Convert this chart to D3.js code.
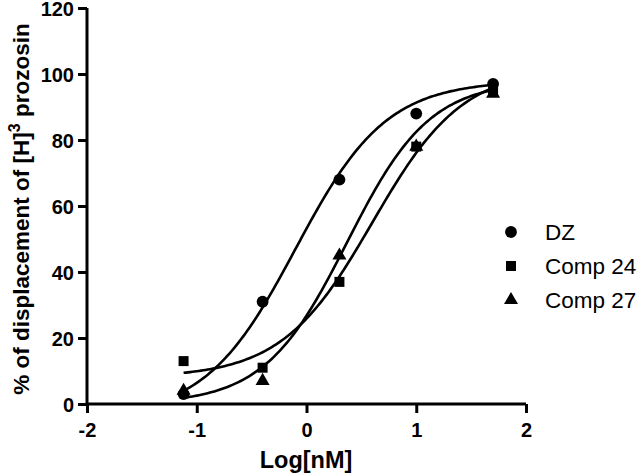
<!DOCTYPE html>
<html><head><meta charset="utf-8">
<script src="https://cdn.jsdelivr.net/npm/d3@7"></script>
<style>body{margin:0;background:#fff}svg{display:block}text{font-family:"Liberation Sans",Arial,sans-serif}</style>
</head><body>
<svg id="c" width="640" height="473"></svg>
<script>
// Data
const xDoses = [-1.12, -0.4, 0.3, 1.0, 1.7];
const dzValues = [3, 31, 68, 88, 97];
const comp24Values = [13, 11, 37, 78, 95];
const comp27Values = [4, 7, 45, 78, 94];
const seriesNames = ["DZ", "Comp 24", "Comp 27"];
const seriesSymbols = ["circle", "square", "triangle"];
// Fitted sigmoid parameters (bottom, top, logEC50, hill)
const dzFit = [-4, 98, -0.1, 1.05];
const comp24Fit = [8, 102, 0.6, 1.05];
const comp27Fit = [0, 98, 0.37, 1.15];
const xTicks = [-2, -1, 0, 1, 2];
const yTicks = [0, 20, 40, 60, 80, 100, 120];

const svg = d3.select("#c");
const x = d3.scaleLinear().domain([-2, 2]).range([87, 526]);
const y = d3.scaleLinear().domain([0, 120]).range([404, 8]);

const series = [
  {name: seriesNames[0], sym: seriesSymbols[0], vals: dzValues, fit: dzFit},
  {name: seriesNames[1], sym: seriesSymbols[1], vals: comp24Values, fit: comp24Fit},
  {name: seriesNames[2], sym: seriesSymbols[2], vals: comp27Values, fit: comp27Fit}
];

const fmt = d => String(d);
// Axes
const xAxis = svg.append("g").attr("transform", "translate(0,404)")
  .call(d3.axisBottom(x).tickValues(xTicks).tickSize(9).tickPadding(6).tickFormat(fmt));
const yAxis = svg.append("g").attr("transform", "translate(87,0)")
  .call(d3.axisLeft(y).tickValues(yTicks).tickSize(9).tickPadding(4).tickFormat(fmt));
[xAxis, yAxis].forEach(a => {
  a.select(".domain").attr("stroke", "#000").attr("stroke-width", 3).attr("d",
    a === xAxis ? `M${x.range()[0]},0H${x.range()[1]}` : `M0,${y.range()[1]}V${y.range()[0]}`);
  a.selectAll(".tick line").attr("stroke", "#000").attr("stroke-width", 3);
  a.selectAll(".tick text").attr("fill", "#000").attr("font-size", 20).attr("font-weight", "bold")
    .style("font-family", "'Liberation Sans', Arial, sans-serif");
});
xAxis.selectAll(".tick text").attr("dy", "0.9em");
yAxis.selectAll(".tick text").attr("dy", "0.36em");

// Curves
const logistic = (p, v) => p[0] + (p[1] - p[0]) / (1 + Math.pow(10, (p[2] - v) * p[3]));
const line = d3.line().x(d => x(d[0])).y(d => y(d[1]));
const xs = d3.range(xDoses[0], xDoses[xDoses.length - 1] + 0.0001, 0.02);
series.forEach(s => {
  svg.append("path").datum(xs.map(v => [v, logistic(s.fit, v)]))
    .attr("d", line).attr("fill", "none").attr("stroke", "#000").attr("stroke-width", 2.6);
});

// Markers
const symType = {circle: d3.symbolCircle, square: d3.symbolSquare, triangle: d3.symbolTriangle};
const symSize = {circle: 110, square: 100, triangle: 85};
series.forEach(s => {
  svg.append("g").selectAll("path").data(s.vals).join("path")
    .attr("transform", (d, i) => `translate(${x(xDoses[i])},${y(d)})`)
    .attr("d", d3.symbol().type(symType[s.sym]).size(symSize[s.sym]))
    .attr("fill", "#000");
});

// Legend
const leg = svg.append("g");
series.forEach((s, i) => {
  const ly = 232 + i * 34;
  leg.append("path").attr("transform", `translate(511,${ly})`)
    .attr("d", d3.symbol().type(symType[s.sym]).size(symSize[s.sym])).attr("fill", "#000");
  leg.append("text").attr("x", 545).attr("y", ly + 8).attr("font-size", 22.5).attr("fill", "#000").text(s.name);
});

// Axis titles
svg.append("text").attr("x", 306).attr("y", 468).attr("text-anchor", "middle")
  .attr("font-size", 23.5).attr("font-weight", "bold").text("Log[nM]");
const yt = svg.append("text").attr("transform", "translate(29,209) rotate(-90)")
  .attr("text-anchor", "middle").attr("font-size", 22.5).attr("font-weight", "bold");
yt.append("tspan").text("% of displacement of [H]");
yt.append("tspan").attr("dy", -9).attr("font-size", 16).text("3");
yt.append("tspan").attr("dy", 9).text(" prozosin");
</script>
</body></html>
